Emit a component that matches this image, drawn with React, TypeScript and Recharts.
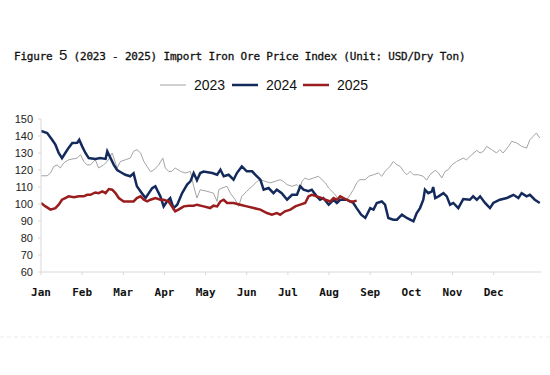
import React from 'react';
import { LineChart, Line, XAxis, YAxis } from 'recharts';

const monthLabels = ['Jan', 'Feb', 'Mar', 'Apr', 'May', 'Jun', 'Jul', 'Aug', 'Sep', 'Oct', 'Nov', 'Dec'];
const monthTicks = [0, 1, 2, 3, 4, 5, 6, 7, 8, 9, 10, 11];
const yTicks = [60, 70, 80, 90, 100, 110, 120, 130, 140, 150];
const seriesNames = ['2023', '2024', '2025'];

// 2023 (grey): position in months since Jan 1, and index value
const x2023 = [0.00, 0.15, 0.23, 0.31, 0.39, 0.47, 0.55, 0.67, 0.88, 0.96, 1.04, 1.12, 1.20, 1.32, 1.40, 1.52, 1.61, 1.73, 1.85, 1.93, 2.05, 2.17, 2.25, 2.33, 2.42, 2.50, 2.58, 2.66, 2.74, 2.86, 2.96, 3.02, 3.10, 3.18, 3.26, 3.39, 3.51, 3.63, 3.71, 3.79, 3.87, 4.03, 4.19, 4.28, 4.32, 4.40, 4.52, 4.60, 4.72, 4.80, 4.88, 5.00, 5.13, 5.25, 5.33, 5.45, 5.57, 5.69, 5.81, 5.89, 5.98, 6.10, 6.22, 6.30, 6.34, 6.42, 6.50, 6.62, 6.74, 6.83, 6.91, 6.99, 7.07, 7.15, 7.23, 7.35, 7.43, 7.51, 7.59, 7.67, 7.75, 7.88, 7.96, 8.08, 8.20, 8.28, 8.36, 8.48, 8.56, 8.65, 8.73, 8.81, 8.89, 8.97, 9.05, 9.17, 9.29, 9.37, 9.45, 9.58, 9.66, 9.74, 9.82, 9.90, 9.98, 10.10, 10.18, 10.26, 10.34, 10.47, 10.59, 10.67, 10.75, 10.83, 10.95, 11.07, 11.15, 11.23, 11.36, 11.44, 11.56, 11.68, 11.80, 11.88, 11.96, 12.04, 12.12];
const v2023 = [116.6, 116.6, 118.2, 122.1, 123, 121.2, 124.1, 126, 127, 129, 125, 123, 123, 126, 121.2, 123, 125, 130, 121.2, 125, 126, 127, 131, 132, 130, 125, 122, 119, 120, 123, 127, 121.2, 119.2, 119.2, 121.2, 119.2, 118.2, 119.2, 110.4, 103.5, 108.4, 107.5, 106.4, 101.5, 108.4, 109.4, 110.4, 106.4, 102.5, 98.6, 104.5, 107.5, 110.4, 113.3, 114.3, 113.3, 112.4, 113.3, 114.3, 113.3, 111.4, 110.4, 111.4, 109.4, 113.3, 115.3, 114.3, 115.3, 116.3, 114.3, 112.4, 109.4, 107.5, 105.4, 102.5, 102.5, 102.5, 105.4, 108.4, 112.4, 114.3, 114.3, 116.3, 117.2, 118.2, 116.3, 119.2, 122.1, 125, 123, 122.1, 119.2, 117.2, 119.2, 117.2, 117.2, 116.3, 114, 117.2, 119.8, 118.2, 115.3, 119.2, 120.2, 123, 125, 126, 127, 126, 129, 131.5, 130, 131, 133.9, 132, 130, 132, 130, 133.9, 136.9, 135.9, 133.9, 132.9, 137.8, 139.8, 141.8, 138.8];

// 2024 (navy)
const x2024 = [0.00, 0.15, 0.27, 0.35, 0.43, 0.51, 0.59, 0.67, 0.76, 0.88, 0.93, 1.00, 1.08, 1.16, 1.32, 1.44, 1.57, 1.61, 1.69, 1.77, 1.85, 1.93, 2.05, 2.17, 2.25, 2.33, 2.42, 2.54, 2.62, 2.70, 2.78, 2.82, 2.90, 2.98, 3.06, 3.14, 3.22, 3.31, 3.43, 3.55, 3.63, 3.71, 3.79, 3.87, 3.95, 4.16, 4.28, 4.36, 4.44, 4.56, 4.68, 4.76, 4.88, 5.00, 5.13, 5.21, 5.33, 5.41, 5.53, 5.65, 5.73, 5.85, 5.98, 6.10, 6.22, 6.30, 6.38, 6.50, 6.58, 6.70, 6.78, 6.86, 6.99, 7.11, 7.19, 7.27, 7.43, 7.59, 7.67, 7.78, 7.88, 8.00, 8.08, 8.16, 8.28, 8.36, 8.44, 8.56, 8.65, 8.77, 8.89, 8.97, 9.05, 9.13, 9.21, 9.29, 9.33, 9.41, 9.50, 9.53, 9.58, 9.66, 9.78, 9.86, 9.94, 10.02, 10.14, 10.26, 10.42, 10.50, 10.59, 10.67, 10.79, 10.91, 10.99, 11.15, 11.32, 11.48, 11.60, 11.68, 11.80, 11.88, 12.00, 12.12];
const v2024 = [143, 141.8, 137.8, 134.9, 130, 127, 130, 133, 135.9, 136, 137.8, 133.9, 130, 127, 126.5, 127, 126.5, 131, 127, 123, 120, 118.8, 117.2, 116.3, 118, 110.4, 107.4, 103.5, 106.4, 109.3, 110.4, 108.4, 104.5, 98.6, 101.5, 103.5, 97.6, 99.6, 106.4, 111.4, 113.3, 118.2, 114, 118.2, 119.1, 118.2, 117.2, 120.2, 116.3, 117.2, 114.3, 118.2, 122.1, 119.2, 119.2, 117.2, 114.3, 108.4, 109.4, 106.4, 108.4, 106.4, 102.5, 105.4, 105.4, 110.4, 108.4, 107.5, 108.4, 104.5, 102.5, 103.5, 99.6, 102.5, 100.6, 102.5, 102.5, 100.6, 97.6, 93.7, 91.8, 97.6, 96.7, 100.6, 101.5, 99.6, 91.8, 90.8, 90.8, 93.7, 91.8, 90.8, 89.8, 94.7, 97.6, 102.5, 108.4, 106.4, 107.4, 110, 103.5, 104.5, 106.4, 104.5, 99.6, 100.6, 97.6, 102.9, 102.5, 104.5, 102.5, 104.5, 100.6, 97.6, 100.6, 102.5, 103.5, 105.4, 103.5, 106.4, 104.5, 105.4, 102.5, 100.6];

// 2025 (dark red)
const x2025 = [0.00, 0.11, 0.23, 0.35, 0.43, 0.51, 0.59, 0.67, 0.80, 0.92, 1.04, 1.12, 1.20, 1.32, 1.40, 1.49, 1.57, 1.65, 1.73, 1.81, 1.89, 2.01, 2.13, 2.25, 2.33, 2.42, 2.50, 2.58, 2.66, 2.78, 2.90, 2.98, 3.10, 3.18, 3.26, 3.34, 3.47, 3.59, 3.71, 3.79, 3.95, 4.11, 4.19, 4.28, 4.36, 4.44, 4.52, 4.68, 4.84, 5.00, 5.17, 5.33, 5.49, 5.61, 5.73, 5.81, 5.93, 6.06, 6.18, 6.30, 6.42, 6.50, 6.58, 6.70, 6.83, 6.91, 7.03, 7.11, 7.19, 7.27, 7.35, 7.43, 7.51, 7.59, 7.67];
const v2025 = [100.6, 98.6, 96.7, 97.6, 99.6, 102.5, 103.5, 104.5, 104, 104.5, 104.5, 105.4, 105.4, 106.8, 106.4, 107.4, 106.4, 108.8, 108.4, 106.4, 103.5, 101.5, 101.5, 101.5, 103.5, 104.5, 102.5, 101.5, 102.5, 103.5, 102.5, 102.5, 101.5, 98.6, 95.7, 96.7, 98.6, 99, 99, 99.6, 98.6, 97.6, 99, 98.6, 101.5, 102.5, 100.6, 100.6, 99.6, 98.6, 97.6, 96.7, 94.7, 93.7, 94.7, 93.7, 95.7, 96.7, 98.6, 99.6, 100.6, 104.5, 105.4, 104.5, 103.5, 102.5, 101.5, 103.5, 102.5, 104.5, 103.5, 102.5, 101.5, 101.5, 102];

const build = (xs: number[], vs: number[]) => xs.map((m, i) => ({ m, v: vs[i] }));
const d2023 = build(x2023, v2023);
const d2024 = build(x2024, v2024);
const d2025 = build(x2025, v2025);

const C2023 = '#a3a3a3';
const C2024 = '#142a5c';
const C2025 = '#9a1c1c';

const MonthTick = (props: any) => {
  const { x, y, payload } = props;
  return (
    <text x={x} y={y + 19} textAnchor="middle" fontFamily="'DejaVu Sans Mono', monospace" fontWeight="bold" fontSize={11} fill="#111">
      {monthLabels[payload.value]}
    </text>
  );
};

export default function App() {
  const legendItems = [
    { name: seriesNames[0], color: C2023, w: 1, lx: 160, tx: 194 },
    { name: seriesNames[1], color: C2024, w: 2.5, lx: 232, tx: 266 },
    { name: seriesNames[2], color: C2025, w: 2.5, lx: 303, tx: 337 },
  ];
  return (
    <div style={{ position: 'absolute', left: 0, top: 0, width: 550, height: 375, background: '#fff' }}>
      <LineChart width={550} height={375} margin={{ top: 119, right: 9, bottom: 73, left: 11 }}>
        <XAxis
          type="number"
          dataKey="m"
          domain={[0, 12.15]}
          ticks={monthTicks}
          allowDataOverflow
          height={30}
          tick={<MonthTick />}
          axisLine={{ stroke: '#d9d9d9' }}
          tickLine={{ stroke: '#d9d9d9' }}
          tickSize={3}
          interval={0}
        />
        <YAxis
          type="number"
          domain={[60, 150]}
          ticks={yTicks}
          width={30}
          interval={0}
          axisLine={{ stroke: '#d9d9d9' }}
          tickLine={{ stroke: '#d9d9d9' }}
          tickSize={3}
          tickMargin={5}
          tick={{ fontSize: 11, fill: '#222', fontFamily: "'Liberation Sans', Arial, sans-serif" }}
        />
        <Line data={d2023} dataKey="v" type="linear" stroke={C2023} strokeWidth={1} dot={false} isAnimationActive={false} />
        <Line data={d2024} dataKey="v" type="linear" stroke={C2024} strokeWidth={2.5} dot={false} isAnimationActive={false} />
        <Line data={d2025} dataKey="v" type="linear" stroke={C2025} strokeWidth={2.5} dot={false} isAnimationActive={false} />
      </LineChart>
      <svg width={550} height={375} style={{ position: 'absolute', left: 0, top: 0, pointerEvents: 'none' }}>
        <text x={14} y={60} fontFamily="'DejaVu Sans Mono', monospace" fontSize={11} letterSpacing={-0.2} fill="#111" stroke="#111" strokeWidth={0.3} xmlSpace="preserve">
          <tspan>Figure </tspan>
          <tspan fontFamily="'Liberation Sans', Arial, sans-serif" fontSize={15} strokeWidth={0}>5</tspan>
          <tspan> (2023 - 2025) Import Iron Ore Price Index (Unit: USD/Dry Ton)</tspan>
        </text>
        {legendItems.map((it) => (
          <g key={it.name}>
            <line x1={it.lx} x2={it.lx + 26} y1={85} y2={85} stroke={it.color} strokeWidth={it.w} />
            <text x={it.tx} y={90} fontFamily="'Liberation Sans', Arial, sans-serif" fontSize={14} fill="#111">
              {it.name}
            </text>
          </g>
        ))}
        <line x1={0} x2={550} y1={337} y2={337} stroke="#ececec" strokeDasharray="4 3" strokeWidth={1} />
      </svg>
    </div>
  );
}
